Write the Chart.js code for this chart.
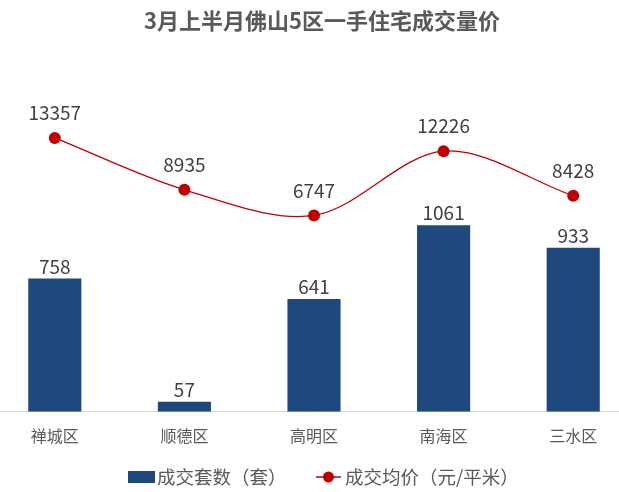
<!DOCTYPE html>
<html>
<head>
<meta charset="utf-8">
<script src="https://cdn.jsdelivr.net/npm/chart.js@4/dist/chart.umd.min.js"></script>
<style>
  html, body { margin: 0; padding: 0; background: #fff; }
  #wrap { position: relative; width: 619px; height: 492px; overflow: hidden; }
  #chart { position: absolute; left: -16px; top: 0; }
</style>
</head>
<body>
<div id="wrap"><canvas id="chart" width="660" height="492"></canvas></div>
<script>
// data
const districts = ['禅城区', '顺德区', '高明区', '南海区', '三水区'];
const units = [758, 57, 641, 1061, 933];          // 成交套数（套）
const avgPrice = [13357, 8935, 6747, 12226, 8428]; // 成交均价（元/平米）
const chartTitle = '3月上半月佛山5区一手住宅成交量价';

const FONT = '"Noto Sans CJK SC", "Microsoft YaHei", sans-serif';
const BLUE = '#1f497d';
const RED = '#c00000';
const SHIFT = 16; // canvas sits this far left of the window

// title drawn by hand so it can sit where the original has it
const titleText = {
    id: 'titleText',
    afterDraw(chart) {
        const ctx = chart.ctx;
        ctx.save();
        ctx.font = 'bold 22px ' + FONT;
        ctx.fillStyle = '#595959';
        ctx.textAlign = 'center';
        ctx.textBaseline = 'middle';
        ctx.fillText(chartTitle, 322 + SHIFT, 21);
        ctx.restore();
    }
};

// legend at the bottom: box for bars, line+dot for price
const bottomLegend = {
    id: 'bottomLegend',
    afterDraw(chart) {
        const ctx = chart.ctx;
        const y = 477;
        ctx.save();
        // bars
        ctx.fillStyle = BLUE;
        ctx.fillRect(128 + SHIFT, y - 6, 27, 12);
        // price line
        ctx.strokeStyle = RED;
        ctx.lineWidth = 1.5;
        ctx.beginPath();
        ctx.moveTo(316 + SHIFT, y);
        ctx.lineTo(341 + SHIFT, y);
        ctx.stroke();
        ctx.fillStyle = RED;
        ctx.beginPath();
        ctx.arc(328.5 + SHIFT, y, 5.5, 0, Math.PI * 2);
        ctx.fill();
        // texts
        ctx.font = '18.5px ' + FONT;
        ctx.fillStyle = '#595959';
        ctx.textAlign = 'left';
        ctx.textBaseline = 'middle';
        ctx.fillText(chart.data.datasets[1].label, 157 + SHIFT, y);
        ctx.fillText(chart.data.datasets[0].label, 345 + SHIFT, y);
        ctx.restore();
    }
};

// value labels above bars and points
const valueLabels = {
    id: 'valueLabels',
    afterDatasetsDraw(chart) {
        const ctx = chart.ctx;
        ctx.save();
        ctx.font = '19px ' + FONT;
        ctx.fillStyle = '#404040';
        ctx.textAlign = 'center';
        ctx.textBaseline = 'middle';
        chart.data.datasets.forEach((ds, i) => {
            const meta = chart.getDatasetMeta(i);
            meta.data.forEach((el, j) => {
                const off = ds.type === 'line' ? 25 : 12;
                ctx.fillText(ds.data[j], el.x, el.y - off);
            });
        });
        ctx.restore();
    }
};

const ctx = document.getElementById('chart').getContext('2d');
new Chart(ctx, {
    data: {
        labels: districts,
        datasets: [
            {
                type: 'line',
                label: '成交均价（元/平米）',
                data: avgPrice,
                yAxisID: 'y1',
                borderColor: RED,
                borderWidth: 1.3,
                backgroundColor: RED,
                pointRadius: 6,
                pointHoverRadius: 6,
                pointBorderWidth: 0,
                tension: 0.33,
                order: 0
            },
            {
                type: 'bar',
                label: '成交套数（套）',
                data: units,
                yAxisID: 'y',
                backgroundColor: BLUE,
                categoryPercentage: 1,
                barPercentage: 0.41,
                order: 1
            }
        ]
    },
    options: {
        responsive: false,
        animation: false,
        layout: { padding: { top: 60, bottom: 39, left: 0, right: 0 } },
        plugins: {
            title: { display: false },
            legend: { display: false },
            tooltip: { enabled: false }
        },
        scales: {
            x: {
                grid: { display: false },
                border: { display: true, color: '#d9d9d9', width: 1 },
                ticks: { color: '#595959', font: { family: FONT, size: 16 }, padding: 7 }
            },
            y: { display: false, min: 0, max: 2000 },
            y1: { display: false, position: 'right', min: -10000, max: 20000 }
        }
    },
    plugins: [valueLabels, titleText, bottomLegend]
});
</script>
</body>
</html>
